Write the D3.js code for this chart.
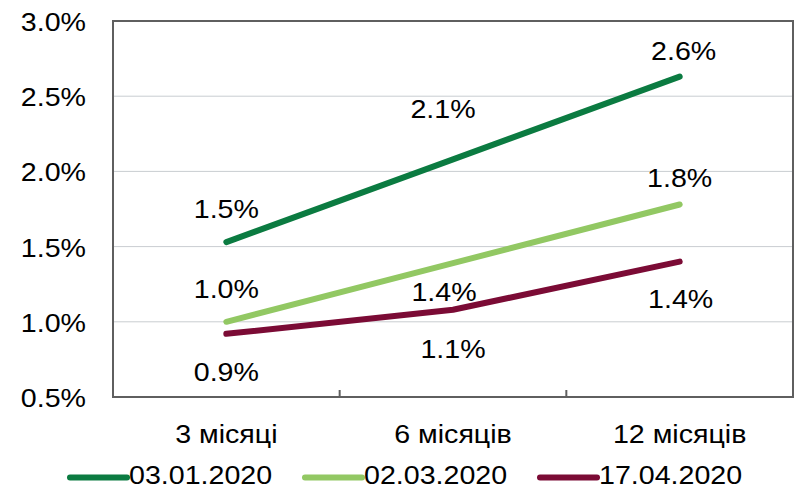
<!DOCTYPE html>
<html>
<head>
<meta charset="utf-8">
<script src="https://cdn.jsdelivr.net/npm/d3@7"></script>
<style>
  body { margin: 0; background: #fff; }
  text { font-family: "Liberation Sans", Arial, sans-serif; fill: #000; }
</style>
</head>
<body>
<svg id="chart" width="795" height="491"></svg>
<script>
// data
const categories = ["3 місяці", "6 місяців", "12 місяців"];
const seriesNames = ["03.01.2020", "02.03.2020", "17.04.2020"];
const jan03 = [0.0153, 0.0208, 0.0263];
const mar02 = [0.0100, 0.0139, 0.0178];
const apr17 = [0.0092, 0.0108, 0.0140];
const yTicks = [0.005, 0.01, 0.015, 0.02, 0.025, 0.03];

// label placement (dx, dy from point)
const labelPos = [
  [[0, -24], [-10, -41], [4, -17]],
  [[0, -24], [-9, 38], [0, -17]],
  [[0, 47], [0, 48], [1, 46]]
];

const colors = ["#0b7b41", "#92c863", "#7b0b35"];
const series = [jan03, mar02, apr17];

const svg = d3.select("#chart");
const margin = { left: 113, right: 2, top: 21, bottom: 94 };
const W = 795, H = 491;
const SX = 1.1; // text is slightly stretched horizontally
const fs = 26;

const x = d3.scaleBand().domain(categories).range([margin.left, W - margin.right]);
const y = d3.scaleLinear().domain([0.005, 0.03]).range([H - margin.bottom, margin.top]);
const fmt = d3.format(".1%");

function txt(g, tx, ty, s, anchor) {
  return g.append("text")
    .attr("transform", `translate(${tx},${ty}) scale(${SX},1)`)
    .attr("text-anchor", anchor || "middle")
    .attr("font-size", fs)
    .text(s);
}

// gridlines
svg.append("g").selectAll("line")
  .data(yTicks.filter(t => t > 0.005 && t < 0.03))
  .join("line")
  .attr("x1", margin.left).attr("x2", W - margin.right)
  .attr("y1", d => y(d)).attr("y2", d => y(d))
  .attr("stroke", "#c9cdd1").attr("stroke-width", 1);

// frame
svg.append("rect")
  .attr("x", margin.left).attr("y", margin.top)
  .attr("width", W - margin.right - margin.left)
  .attr("height", H - margin.bottom - margin.top)
  .attr("fill", "none").attr("stroke", "#5f5f5f").attr("stroke-width", 2);

// category boundary ticks
svg.append("g").selectAll("line")
  .data(categories.slice(1))
  .join("line")
  .attr("x1", d => x(d)).attr("x2", d => x(d))
  .attr("y1", H - margin.bottom).attr("y2", H - margin.bottom - 7)
  .attr("stroke", "#5f5f5f").attr("stroke-width", 2);

// y labels
const yl = svg.append("g");
yTicks.forEach(t => txt(yl, 86, y(t) + 10, fmt(t), "end"));

// x labels
const xl = svg.append("g");
categories.forEach(c => txt(xl, x(c) + x.bandwidth() / 2, 443, c));

// lines
const line = d3.line()
  .x((d, i) => x(categories[i]) + x.bandwidth() / 2)
  .y(d => y(d));

series.forEach((s, k) => {
  svg.append("path")
    .datum(s)
    .attr("d", line)
    .attr("fill", "none")
    .attr("stroke", colors[k])
    .attr("stroke-width", 6)
    .attr("stroke-linecap", "round")
    .attr("stroke-linejoin", "round");
});

// data labels
const dl = svg.append("g");
series.forEach((s, k) => {
  s.forEach((v, i) => {
    const px = x(categories[i]) + x.bandwidth() / 2 + labelPos[k][i][0];
    const py = y(v) + labelPos[k][i][1];
    txt(dl, px, py, fmt(v));
  });
});

// legend
const legendX = [70, 305, 540];
const lg = svg.append("g");
seriesNames.forEach((n, k) => {
  lg.append("line")
    .attr("x1", legendX[k]).attr("x2", legendX[k] + 57)
    .attr("y1", 477.5).attr("y2", 477.5)
    .attr("stroke", colors[k]).attr("stroke-width", 6)
    .attr("stroke-linecap", "round");
  txt(lg, legendX[k] + 59, 484, n, "start");
});
</script>
</body>
</html>
